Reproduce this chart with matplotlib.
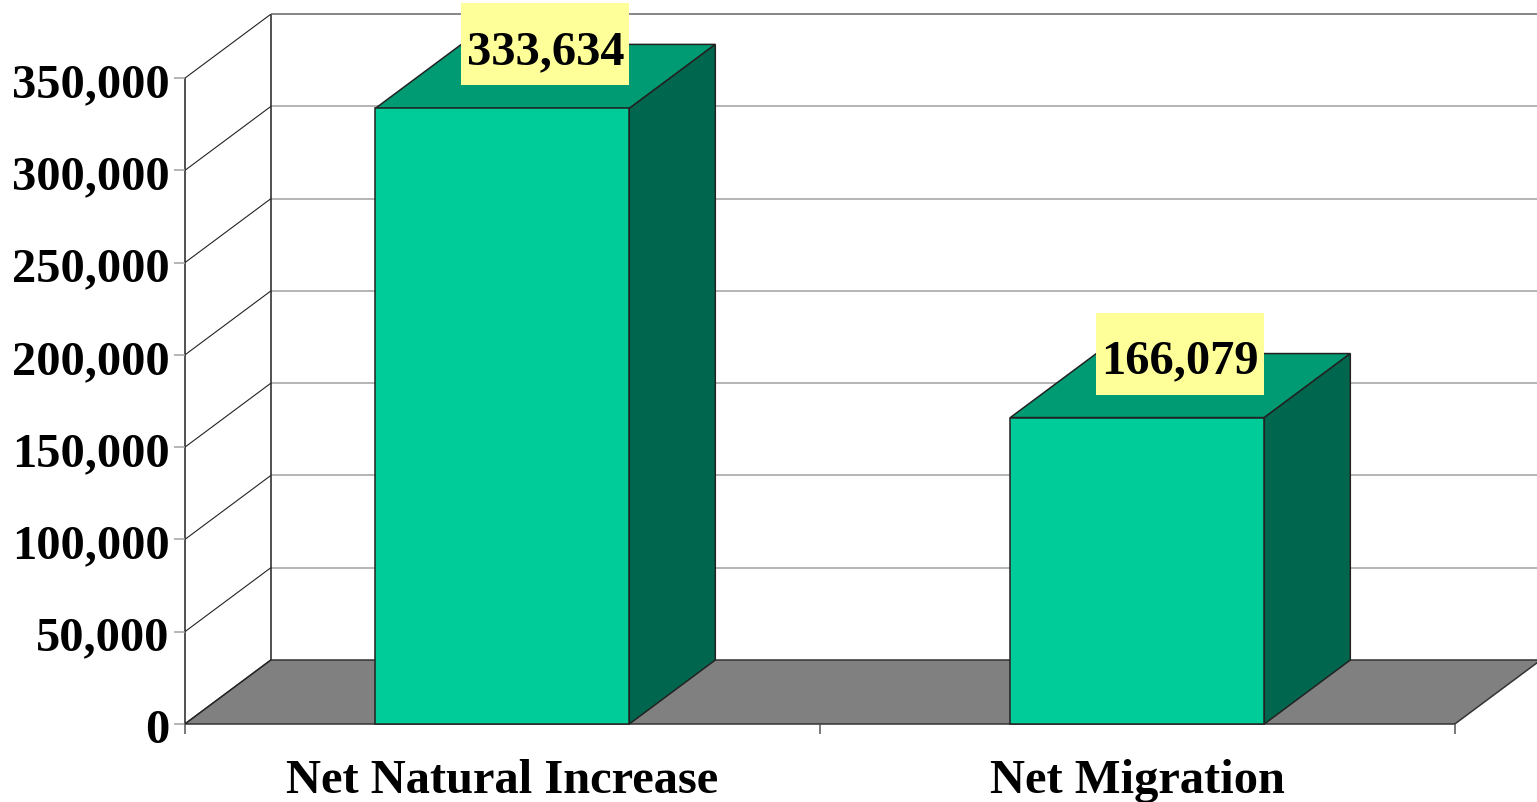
import matplotlib
matplotlib.use("Agg")
import matplotlib.pyplot as plt
from matplotlib.patches import Polygon, Rectangle

categories = ["Net Natural Increase", "Net Migration"]
values = [333634, 166079]
value_labels = ["333,634", "166,079"]
y_ticks = [0, 50000, 100000, 150000, 200000, 250000, 300000, 350000]
y_tick_labels = ["0", "50,000", "100,000", "150,000", "200,000", "250,000", "300,000", "350,000"]

W, H = 1537, 802
L, R, B, T = 184.8, 1454.8, 724, 78.2
fig = plt.figure(figsize=(W / 100, H / 100), dpi=100, facecolor="white")
ax = fig.add_axes([L / W, 1 - B / H, (R - L) / W, (B - T) / H])
ax.set_xlim(0, len(categories))
ax.set_ylim(0, 350000)
ax.axis("off")

px = (R - L) / len(categories)
py = (B - T) / 350000
DX = 86 / px
DY = 64 / py
BW = 254 / px
FONT = "Liberation Serif"
FS = 34.9
ymax = y_ticks[-1]
n = len(categories)
LW = 1.1


def poly(pts, fc, ec="#222222", lw=LW, z=2):
    ax.add_patch(Polygon(pts, closed=True, facecolor=fc, edgecolor=ec, linewidth=lw,
                         zorder=z, clip_on=False, joinstyle="miter"))


def line(xs, ys, c="black", lw=LW, z=1):
    ax.plot(xs, ys, color=c, linewidth=lw, zorder=z, clip_on=False, solid_capstyle="butt")


# floor
poly([(0, 0), (n, 0), (n + DX, DY), (DX, DY)], "#808080", ec="#333333", lw=LW, z=1)

# walls and gridlines
for v in y_ticks[1:]:
    line([0, DX], [v, v + DY], "#222222", 0.8)
    if v < ymax:
        line([DX, n + DX], [v + DY, v + DY], "#A0A0A0", LW)
line([0, DX], [0, DY], "#222222", 0.8, 1.5)
line([0, 0], [0, ymax], "#222222", LW)
line([DX, DX], [DY, ymax + DY], "#222222", LW)
line([DX, n + DX], [ymax + DY, ymax + DY], "#666666", LW)

# axis ticks and labels
tx = 11 / px
ty = 10 / py
for v, s in zip(y_ticks, y_tick_labels):
    line([-tx, 0], [v, v], "#A0A0A0", LW)
    ax.text(-15 / px, v - 7 / py, s, ha="right", va="center", fontfamily=FONT,
            fontweight="bold", fontsize=FS, color="black", clip_on=False)
for i in range(n + 1):
    line([i, i], [0, -ty], "#555555", LW)
for i, c in enumerate(categories):
    ax.text(i + 0.5, -57 / py, c, ha="center", va="center", fontfamily=FONT,
            fontweight="bold", fontsize=FS, color="black", clip_on=False)

# bars
for i, v in enumerate(values):
    c = i + 0.5
    x0, x1 = c - BW / 2, c + BW / 2
    poly([(x0, v), (x1, v), (x1 + DX, v + DY), (x0 + DX, v + DY)], "#009A73", z=3)
    poly([(x1, 0), (x1 + DX, DY), (x1 + DX, v + DY), (x1, v)], "#00664D", z=3)
    poly([(x0, 0), (x1, 0), (x1, v), (x0, v)], "#00CC99", z=3)

# data labels
bw, bh = 168 / px, 82 / py
for i, (v, s) in enumerate(zip(values, value_labels)):
    cx, cy = i + 0.5 + DX / 2, v + DY
    ax.add_patch(Rectangle((cx - bw / 2, cy - bh / 2), bw, bh, facecolor="#FFFF99",
                           edgecolor="none", zorder=4, clip_on=False))
    ax.text(cx, cy - 8 / py, s, ha="center", va="center", fontfamily=FONT, fontweight="bold",
            fontsize=FS, color="black", zorder=5, clip_on=False)

fig.savefig("out.png", dpi=100, facecolor="white")
